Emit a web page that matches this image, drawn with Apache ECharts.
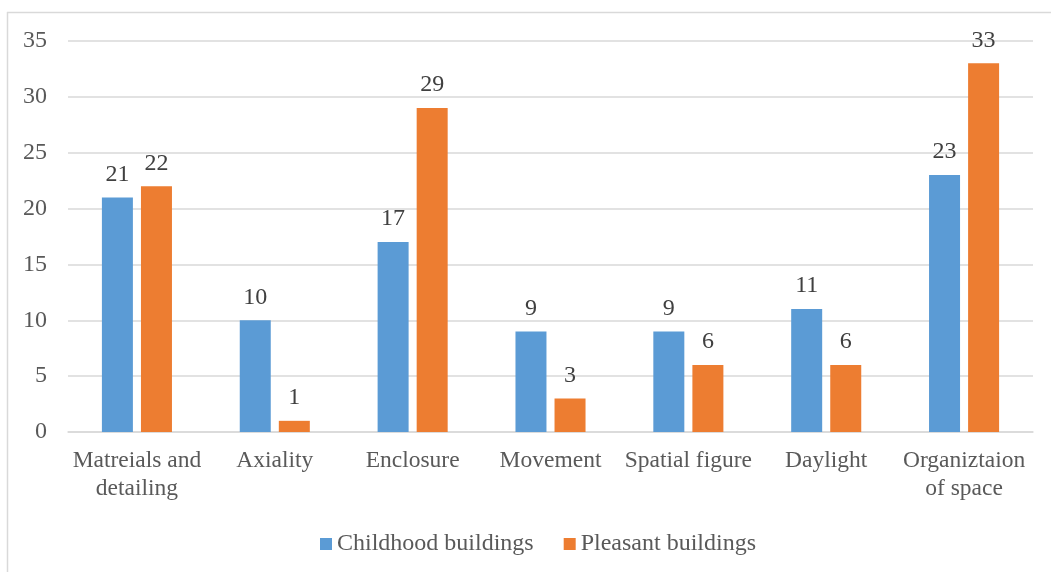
<!DOCTYPE html>
<html>
<head>
<meta charset="utf-8">
<style>
  html, body { margin: 0; padding: 0; background: #fff; }
  #chart { width: 1051px; height: 572px; }
</style>
<script src="https://cdn.jsdelivr.net/npm/echarts@6/dist/echarts.min.js"></script>
</head>
<body>
<div id="chart"></div>
<script>
const categories = [
  'Matreials and\ndetailing', 'Axiality', 'Enclosure', 'Movement',
  'Spatial figure', 'Daylight', 'Organiztaion\nof space'
];
const childhood = [21, 10, 17, 9, 9, 11, 23];
const pleasant = [22, 1, 29, 3, 6, 6, 33];
const seriesNames = ['Childhood buildings', 'Pleasant buildings'];

const font = '"Liberation Serif", "Times New Roman", serif';
const blue = '#5b9bd5';
const orange = '#ed7d31';

const chart = echarts.init(document.getElementById('chart'));

const barLabel = {
  show: true,
  position: 'top',
  distance: 11,
  color: '#404040',
  fontFamily: font,
  fontSize: 24,
};

chart.setOption({
  animation: false,
  textStyle: { fontFamily: font },
  graphic: [
    { type: 'line', shape: { x1: 7.5, y1: 12, x2: 7.5, y2: 572 }, style: { stroke: '#d9d9d9', lineWidth: 1.5 } },
    { type: 'line', shape: { x1: 7, y1: 12.5, x2: 1051, y2: 12.5 }, style: { stroke: '#d9d9d9', lineWidth: 1.5 } },
  ],
  legend: {
    left: 315,
    top: 527,
    itemWidth: 12,
    itemHeight: 12,
    itemGap: 30,
    icon: 'rect',
    textStyle: { color: '#595959', fontFamily: font, fontSize: 24 },
    data: seriesNames,
  },
  grid: { left: 68, right: 18, top: 41, bottom: 140 },
  xAxis: {
    type: 'category',
    data: categories,
    axisLine: { lineStyle: { color: '#d9d9d9', width: 1.5 } },
    axisTick: { show: false },
    axisLabel: {
      color: '#595959',
      fontFamily: font,
      fontSize: 23.5,
      lineHeight: 28,
      margin: 15,
      interval: 0,
    },
  },
  yAxis: {
    type: 'value',
    min: 0,
    max: 35,
    interval: 5,
    axisLine: { show: false },
    axisTick: { show: false },
    axisLabel: { color: '#595959', fontFamily: font, fontSize: 24, margin: 21 },
    splitLine: { lineStyle: { color: '#d9d9d9', width: 1.5 } },
  },
  series: [
    {
      name: seriesNames[0],
      type: 'bar',
      data: childhood,
      barWidth: 31,
      barGap: '26%',
      itemStyle: { color: blue },
      label: barLabel,
    },
    {
      name: seriesNames[1],
      type: 'bar',
      data: pleasant,
      barWidth: 31,
      itemStyle: { color: orange },
      label: barLabel,
    },
  ],
});
</script>
</body>
</html>
